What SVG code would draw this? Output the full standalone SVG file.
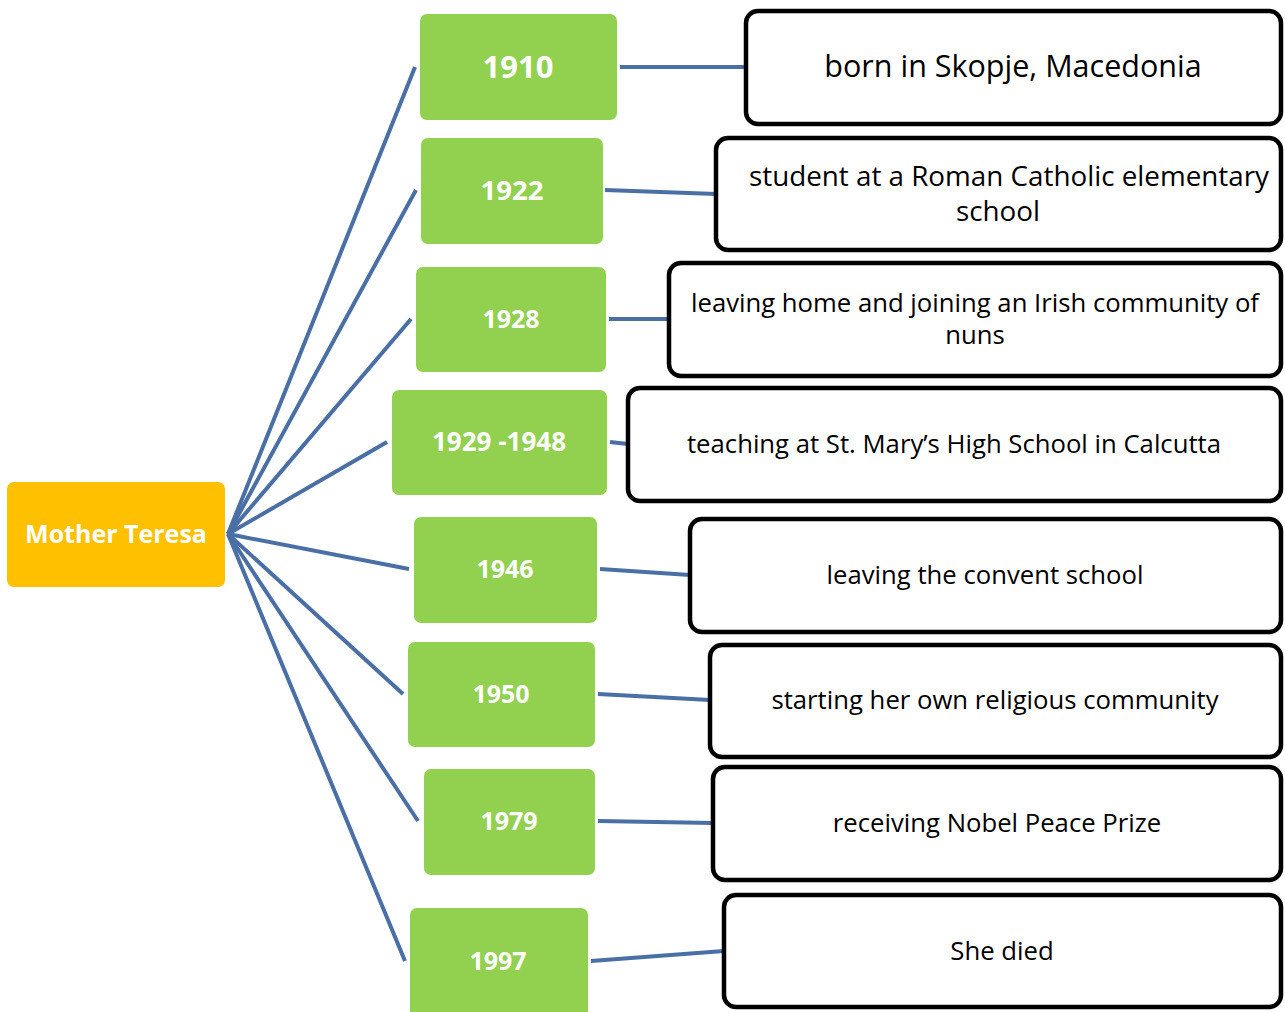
<svg xmlns="http://www.w3.org/2000/svg" width="1285" height="1012" viewBox="0 0 1285 1012">
<style>
.root{fill:#FFC000;}
.yr{fill:#92D050;}
.ev{fill:#FFFFFF;stroke:#000000;stroke-width:4.5;}
.c{stroke:#4A6FA5;stroke-width:4;fill:none;}
.t{font-family:"Open Sans","Liberation Sans",sans-serif;text-anchor:middle;}
.w{fill:#FFFFFF;font-weight:bold;}
.b{fill:#000000;font-size:25.7px;}
</style>
<rect width="1285" height="1012" fill="#FFFFFF"/>
<g id="connectors">
<line class="c" x1="228" y1="534" x2="415" y2="67"/>
<line class="c" x1="228" y1="534" x2="416" y2="190"/>
<line class="c" x1="228" y1="534" x2="411" y2="319"/>
<line class="c" x1="228" y1="534" x2="387" y2="442"/>
<line class="c" x1="228" y1="534" x2="409" y2="569"/>
<line class="c" x1="228" y1="534" x2="403" y2="694"/>
<line class="c" x1="228" y1="534" x2="418" y2="821"/>
<line class="c" x1="228" y1="534" x2="405" y2="961"/>
<line class="c" x1="620" y1="67" x2="746" y2="67"/>
<line class="c" x1="605" y1="190" x2="716" y2="194"/>
<line class="c" x1="609" y1="319" x2="669" y2="319"/>
<line class="c" x1="610" y1="442" x2="628" y2="444"/>
<line class="c" x1="600" y1="569" x2="690" y2="575"/>
<line class="c" x1="598" y1="694" x2="710" y2="700"/>
<line class="c" x1="598" y1="821" x2="713" y2="823"/>
<line class="c" x1="591" y1="961" x2="724" y2="951"/>
</g>
<g id="root">
<rect class="root" x="7" y="482" width="218" height="105" rx="7"/>
<text class="t w" x="116" y="543" font-size="25">Mother Teresa</text>
</g>
<g id="y1910"><rect class="yr" x="420" y="14" width="197" height="106" rx="7"/><text class="t w" x="518" y="78" font-size="31">1910</text></g>
<g id="y1922"><rect class="yr" x="421" y="138" width="182" height="106" rx="7"/><text class="t w" x="512" y="200" font-size="27.5">1922</text></g>
<g id="y1928"><rect class="yr" x="416" y="267" width="190" height="105" rx="7"/><text class="t w" x="511" y="328" font-size="25">1928</text></g>
<g id="y1929"><rect class="yr" x="392" y="390" width="215" height="105" rx="7"/><text class="t w" x="499" y="451" font-size="26">1929 -1948</text></g>
<g id="y1946"><rect class="yr" x="414" y="517" width="183" height="106" rx="7"/><text class="t w" x="505" y="578" font-size="25">1946</text></g>
<g id="y1950"><rect class="yr" x="408" y="642" width="187" height="105" rx="7"/><text class="t w" x="501" y="703" font-size="25">1950</text></g>
<g id="y1979"><rect class="yr" x="424" y="769" width="171" height="106" rx="7"/><text class="t w" x="509" y="830" font-size="25">1979</text></g>
<g id="y1997"><rect class="yr" x="410" y="908" width="178" height="110" rx="7"/><text class="t w" x="498" y="970" font-size="25">1997</text></g>
<g id="e1"><rect class="ev" x="746" y="11" width="535" height="113" rx="12"/><text class="t" x="1013" y="77" font-size="30.5">born in Skopje, Macedonia</text></g>
<g id="e2"><rect class="ev" x="716" y="138" width="565" height="112" rx="12"/><text class="t" x="1009" y="186" font-size="27.8">student at a Roman Catholic elementary</text><text class="t" x="998" y="221" font-size="27.8">school</text></g>
<g id="e3"><rect class="ev" x="669" y="263" width="612" height="113" rx="12"/><text class="t b" x="975" y="312">leaving home and joining an Irish community of</text><text class="t b" x="975" y="344">nuns</text></g>
<g id="e4"><rect class="ev" x="628" y="388" width="653" height="113" rx="12"/><text class="t b" x="954" y="453">teaching at St. Mary’s High School in Calcutta</text></g>
<g id="e5"><rect class="ev" x="690" y="519" width="591" height="113" rx="12"/><text class="t b" x="985" y="584">leaving the convent school</text></g>
<g id="e6"><rect class="ev" x="710" y="645" width="571" height="112" rx="12"/><text class="t b" x="995" y="709">starting her own religious community</text></g>
<g id="e7"><rect class="ev" x="713" y="767" width="568" height="113" rx="12"/><text class="t b" x="997" y="832">receiving Nobel Peace Prize</text></g>
<g id="e8"><rect class="ev" x="724" y="895" width="557" height="112" rx="12"/><text class="t b" x="1002" y="960">She died</text></g>
</svg>
